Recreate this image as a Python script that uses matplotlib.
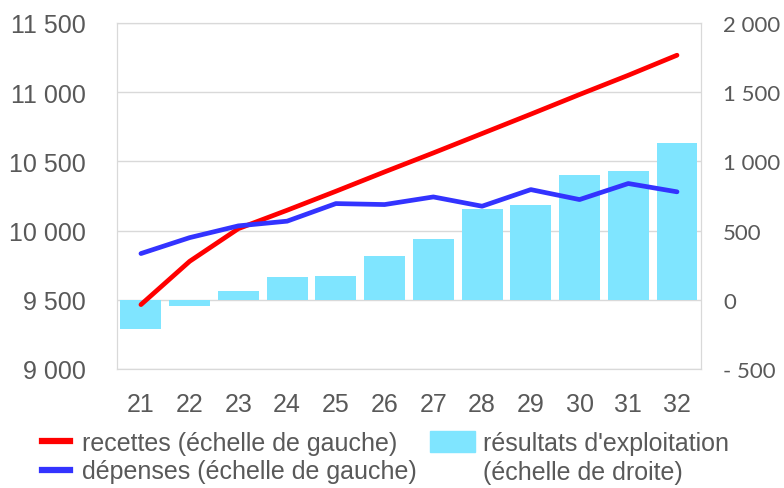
import numpy as np
import matplotlib.pyplot as plt
from matplotlib.patches import Patch
from matplotlib.lines import Line2D

annees = [21, 22, 23, 24, 25, 26, 27, 28, 29, 30, 31, 32]
recettes = [9465, 9778, 10014, 10147, 10284, 10424, 10561, 10701, 10841, 10983, 11122, 11267]
depenses = [9834, 9949, 10034, 10068, 10195, 10188, 10243, 10176, 10296, 10224, 10340, 10280]
resultats = [-210, -45, 65, 166, 173, 318, 436, 655, 686, 903, 932, 1134]

gauche_ticks = [9000, 9500, 10000, 10500, 11000, 11500]
gauche_labels = ['9 000', '9 500', '10 000', '10 500', '11 000', '11 500']
droite_ticks = [-500, 0, 500, 1000, 1500, 2000]
droite_labels = ['- 500', '0', '500', '1 000', '1 500', '2 000']

gris = '#595959'
grille = '#D9D9D9'
fs = 18

fig = plt.figure(figsize=(7.84, 4.89), dpi=100)
ax = fig.add_axes([0.1487, 0.2434, 0.7459, 0.7076])
ax2 = ax.twinx()
ax.set_zorder(2)
ax.patch.set_visible(False)
ax2.set_zorder(1)

x = np.array(annees)
ax2.bar(x, resultats, width=0.84, color='#7FE5FF', zorder=2)
ax2.set_ylim(-500, 2000)
ax2.set_yticks(droite_ticks)
ax2.set_yticklabels(droite_labels, fontfamily='Lato', fontsize=16, color=gris)
ax2.grid(True, axis='y', color=grille, lw=1)
ax2.set_axisbelow(True)
ax2.set_xticks(np.arange(20.5, 33, 1), minor=True)
ax2.grid(True, axis='x', which='minor', color=grille, lw=1)

ax.plot(x, recettes, color='#FF0000', lw=3.4, solid_capstyle='round')
ax.plot(x, depenses, color='#3333FF', lw=3.4, solid_capstyle='round')
ax.set_ylim(9000, 11500)
ax.set_yticks(gauche_ticks)
ax.set_yticklabels(gauche_labels, fontfamily='Liberation Sans', fontsize=fs, color=gris)
ax.set_xlim(20.5, 32.5)
ax.set_xticks(x)
ax.set_xticklabels([str(a) for a in annees], fontfamily='Liberation Sans', fontsize=fs, color=gris)

for a in (ax, ax2):
    for s in a.spines.values():
        s.set_color(grille)
    a.tick_params(length=0, which='both')
ax.tick_params(axis='y', pad=22)
ax.tick_params(axis='x', pad=16.5)
ax2.tick_params(axis='y', pad=15.5)

police = {'family': 'Liberation Sans', 'size': fs}
h1 = [Line2D([], [], color='#FF0000', lw=4.5), Line2D([], [], color='#3333FF', lw=4.5)]
fig.legend(h1, ['recettes (échelle de gauche)', 'dépenses (échelle de gauche)'],
           loc='upper left', bbox_to_anchor=(0.0536, 0.117), frameon=False,
           prop=police, labelcolor=gris,
           handlelength=1.12, handletextpad=0.48, labelspacing=0.18,
           borderpad=0, borderaxespad=0)
h2 = [Patch(color='#7FE5FF'), Patch(alpha=0)]
fig.legend(h2, ["résultats d'exploitation", '(échelle de droite)'],
           loc='upper left', bbox_to_anchor=(0.548, 0.117), frameon=False,
           prop=police, labelcolor=gris,
           handlelength=1.8, handleheight=0.95, handletextpad=0.32, labelspacing=0.18,
           borderpad=0, borderaxespad=0)

plt.savefig('out.png', dpi=100)
